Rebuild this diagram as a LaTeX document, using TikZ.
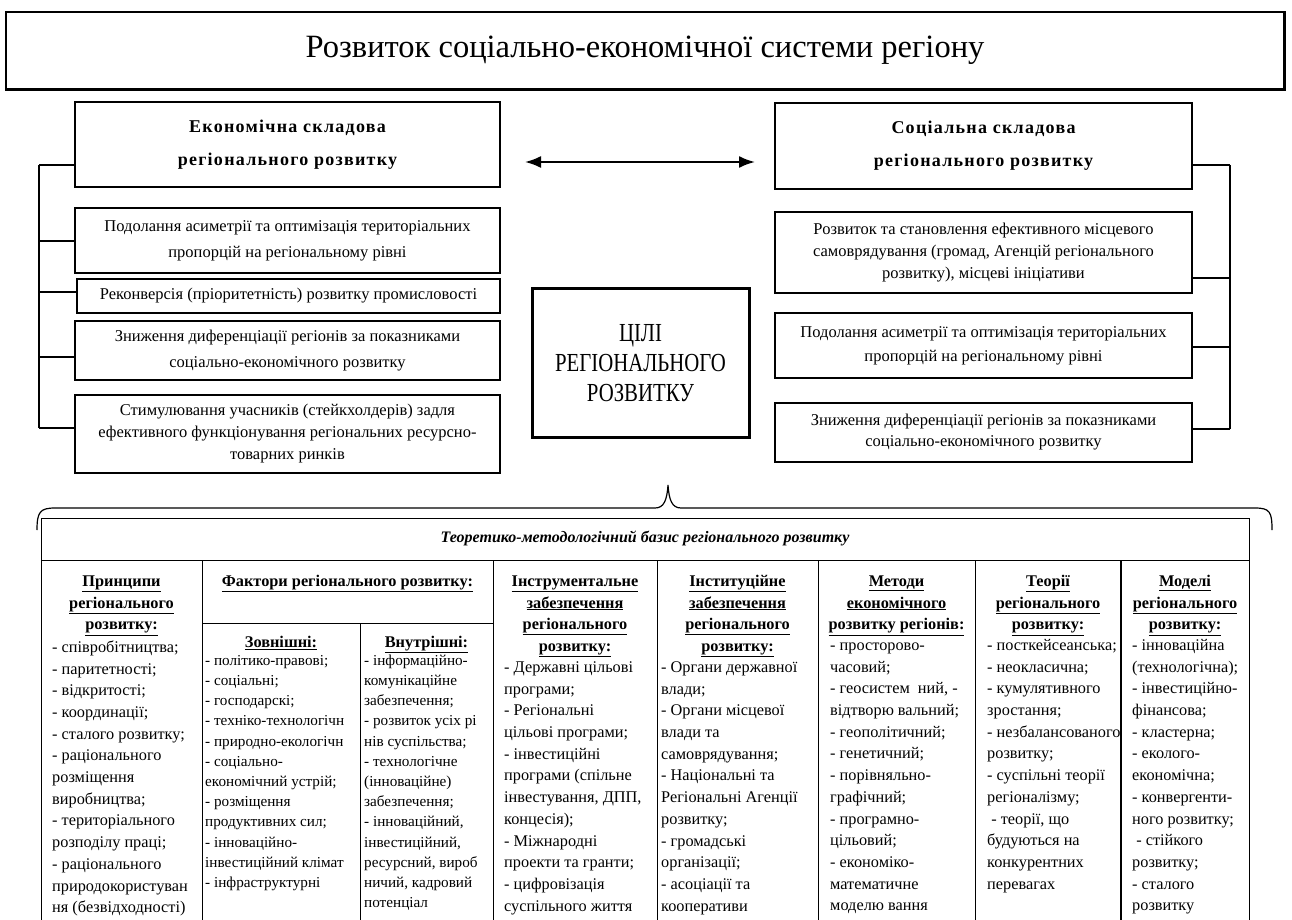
\documentclass[tikz,border=0pt]{standalone}
\usepackage{fontspec}
\setmainfont{Liberation Serif}
\usetikzlibrary{arrows.meta}
\newcommand\hdfont{\fontsize{18}{33}\selectfont\bfseries\addfontfeatures{LetterSpace=7}}
\newcommand\colhd{\fontsize{16.3}{21.7}\selectfont\bfseries}
\newcommand\itm{\fontsize{16.3}{21.7}\selectfont}
\newcommand\itmf{\fontsize{15.2}{20.2}\selectfont}
\newcommand\ul[1]{\underline{#1}}
\newcommand\cnd[1]{\scalebox{0.8}[1]{#1}}
\begin{document}
\begin{tikzpicture}[x=1pt,y=-1pt,
  box/.style={draw, line width=1.2pt, inner sep=0pt, align=center},
  conn/.style={line width=1.2pt},
  grid/.style={line width=1pt},
  colhead/.style={anchor=north, inner sep=0pt, align=center, font=\colhd},
  items/.style={anchor=north west, inner sep=0pt, align=left},
]
\useasboundingbox (0,0) rectangle (1292,920);
% title
\node[box, line width=1.4pt, minimum width=1278pt, minimum height=77pt, font=\fontsize{32.5}{34}\selectfont] (T) at (645,50.5) {Розвиток соціально-економічної системи регіону};
\draw[line width=2.4pt] (T.north east) -- (T.south east) -- (T.south west);
% left boxes
\node[box, minimum width=425pt, minimum height=85pt, font=\hdfont] (E0) at (287.5,144.5) {Економічна складова\\регіонального розвитку};
\node[box, minimum width=425pt, minimum height=65pt, font=\fontsize{16.5}{26}\selectfont] (E1) at (287.5,240.5) {Подолання асиметрії та оптимізація територіальних\\пропорцій на регіональному рівні};
\node[box, minimum width=423pt, minimum height=34pt, font=\fontsize{16.5}{26}\selectfont] (E2) at (288.5,296) {Реконверсія (пріоритетність) розвитку промисловості};
\node[box, minimum width=425pt, minimum height=59pt, font=\fontsize{16.5}{26}\selectfont] (E3) at (287.5,350.5) {Зниження диференціації регіонів за показниками\\соціально-економічного розвитку};
\node[box, minimum width=425pt, minimum height=78pt, font=\fontsize{16.5}{22}\selectfont] (E4) at (287.5,434) {Стимулювання учасників (стейкхолдерів) задля\\ефективного функціонування регіональних ресурсно-\\товарних ринків};
% right boxes
\node[box, minimum width=417pt, minimum height=86pt, font=\hdfont] (S0) at (983.5,146) {Соціальна складова\\регіонального розвитку};
\node[box, minimum width=417pt, minimum height=81pt, font=\fontsize{16.5}{22}\selectfont] (S1) at (983.5,252.5) {Розвиток та становлення ефективного місцевого\\самоврядування (громад, Агенцій регіонального\\розвитку), місцеві ініціативи};
\node[box, minimum width=417pt, minimum height=65pt, font=\fontsize{16.5}{24}\selectfont] (S2) at (983.5,345.5) {Подолання асиметрії та оптимізація територіальних\\пропорцій на регіональному рівні};
\node[box, minimum width=417pt, minimum height=59pt, font=\fontsize{16.5}{21}\selectfont] (S3) at (983.5,432.5) {Зниження диференціації регіонів за показниками\\соціально-економічного розвитку};
% centre
\node[box, line width=3pt, minimum width=217pt, minimum height=149pt, font=\fontsize{26}{30}\selectfont] (C) at (640.5,363) {\cnd{ЦІЛІ}\\\cnd{РЕГІОНАЛЬНОГО}\\\cnd{РОЗВИТКУ}};
% connectors left
\coordinate (L0) at (39,165);
\coordinate (L1) at (39,241);
\coordinate (L2) at (39,292);
\coordinate (L3) at (39,357);
\coordinate (L4) at (39,428);
\draw[conn] (L0) -- (L4);
\draw[conn] (L0) -- (L0 -| E0.west);
\draw[conn] (L1) -- (L1 -| E1.west);
\draw[conn] (L2) -- (L2 -| E2.west);
\draw[conn] (L3) -- (L3 -| E3.west);
\draw[conn] (L4) -- (L4 -| E4.west);
% connectors right
\coordinate (R0) at (1230,165);
\coordinate (R1) at (1230,278);
\coordinate (R2) at (1230,347);
\coordinate (R3) at (1230,429);
\draw[conn] (R0) -- (R3);
\draw[conn] (R0) -- (R0 -| S0.east);
\draw[conn] (R1) -- (R1 -| S1.east);
\draw[conn] (R2) -- (R2 -| S2.east);
\draw[conn] (R3) -- (R3 -| S3.east);
% double arrow
\coordinate (AL) at (525,162);
\coordinate (AR) at (755,162);
\draw[line width=2pt, {Latex[length=16pt,width=12pt]}-{Latex[length=16pt,width=12pt]}] (AL) -- (AR);
% brace
\coordinate (BL) at (37,530);
\coordinate (BT) at (668,485);
\coordinate (BR) at (1272,530);
\draw[line width=1.2pt] (BL) .. controls (37,512) and (40,508) .. (55,508) -- (655,508) .. controls (664,508) and (667,500) .. (BT) .. controls (669,500) and (672,508) .. (681,508) -- (1255,508) .. controls (1270,508) and (1272,512) .. (BR);
% table grid
\draw[grid] (41,920) -- (41,518) -- (1249,518) -- (1249,920);
\draw[grid] (41,560) -- (1249,560);
\foreach \xx in {202,493,657,818,975}{\draw[grid] (\xx,560) -- (\xx,920);}
\draw[line width=2pt] (1121,560) -- (1121,920);
\draw[grid] (202,623) -- (493,623);
\draw[grid] (360,623) -- (360,920);
\node[inner sep=0pt, font=\fontsize{16}{18}\selectfont\bfseries\itshape] (TH) at (645,538) {Теоретико-методологічний базис регіонального розвитку};
% column 1
\node[colhead] (H1) at (121.5,571) {\strut\ul{Принципи}\\\ul{регіонального}\\\ul{розвитку:}};
\node[items, font=\itm] (I1) at (52,637) {\strut- співробітництва;\\- паритетності;\\- відкритості;\\- координації;\\- сталого розвитку;\\- раціонального\\розміщення\\виробництва;\\- територіального\\розподілу праці;\\- раціонального\\природокористуван\\ня (безвідходності)};
% column 2
\node[colhead] (H2) at (347.5,571) {\strut\ul{Фактори регіонального розвитку:}};
\node[colhead] (H2a) at (281,632) {\strut\ul{Зовнішні:}};
\node[colhead] (H2b) at (426.5,632) {\strut\ul{Внутрішні:}};
\node[items, font=\itmf] (I2a) at (205,651) {\strut- політико-правові;\\- соціальні;\\- господарскі;\\- техніко-технологічн\\- природно-екологічн\\- соціально-\\економічний устрій;\\- розміщення\\продуктивних сил;\\- інноваційно-\\інвестиційний клімат\\- інфраструктурні};
\node[items, font=\itmf] (I2b) at (364,651) {\strut- інформаційно-\\комунікаційне\\забезпечення;\\- розвиток усіх рі\\нів суспільства;\\- технологічне\\(інноваційне)\\забезпечення;\\- інноваційний,\\інвестиційний,\\ресурсний, вироб\\ничий, кадровий\\потенціал};
% column 3
\node[colhead] (H3) at (575,571) {\strut\ul{Інструментальне}\\\ul{забезпечення}\\\ul{регіонального}\\\ul{розвитку:}};
\node[items, font=\itm] (I3) at (504,657) {\strut- Державні цільові\\програми;\\- Регіональні\\цільові програми;\\- інвестиційні\\програми (спільне\\інвестування, ДПП,\\концесія);\\- Міжнародні\\проекти та гранти;\\- цифровізація\\суспільного життя};
% column 4
\node[colhead] (H4) at (737.5,571) {\strut\ul{Інституційне}\\\ul{забезпечення}\\\ul{регіонального}\\\ul{розвитку:}};
\node[items, font=\itm] (I4) at (661,657) {\strut- Органи державної\\влади;\\- Органи місцевої\\влади та\\самоврядування;\\- Національні та\\Регіональні Агенції\\розвитку;\\- громадські\\організації;\\- асоціації та\\кооперативи};
% column 5
\node[colhead] (H5) at (896.5,571) {\strut\ul{Методи}\\\ul{економічного}\\\ul{розвитку регіонів:}};
\node[items, font=\itm] (I5) at (830,635) {\strut- просторово-\\часовий;\\- геосистем\ \ ний, -\\відтворю вальний;\\- геополітичний;\\- генетичний;\\- порівняльно-\\графічний;\\- програмно-\\цільовий;\\- економіко-\\математичне\\моделю вання};
% column 6
\node[colhead] (H6) at (1048,571) {\strut\ul{Теорії}\\\ul{регіонального}\\\ul{розвитку:}};
\node[items, font=\itm] (I6) at (987,635) {\strut- посткейсеанська;\\- неокласична;\\- кумулятивного\\зростання;\\- незбалансованого\\розвитку;\\- суспільні теорії\\регіоналізму;\\\ - теорії, що\\будуються на\\конкурентних\\перевагах};
% column 7
\node[colhead] (H7) at (1185,571) {\strut\ul{Моделі}\\\ul{регіонального}\\\ul{розвитку:}};
\node[items, font=\itm] (I7) at (1132,635) {\strut- інноваційна\\(технологічна);\\- інвестиційно-\\фінансова;\\- кластерна;\\- еколого-\\економічна;\\- конвергенти-\\ного розвитку;\\\ - стійкого\\розвитку;\\- сталого\\розвитку};
\end{tikzpicture}
\end{document}
